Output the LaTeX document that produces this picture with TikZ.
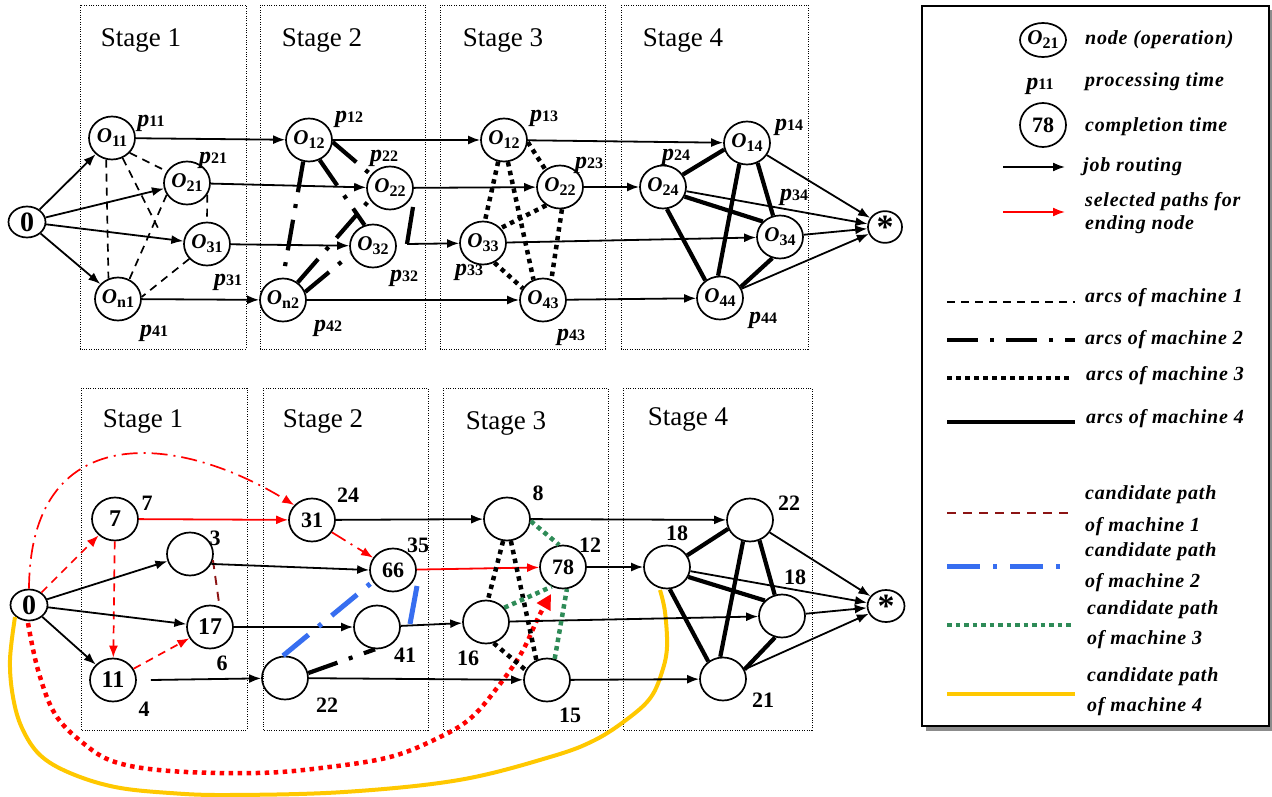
\documentclass[tikz,border=0pt]{standalone}
\usepackage{fontspec}
\setmainfont{Liberation Serif}
\newfontfamily\legfont[LetterSpace=4]{Liberation Serif}
\usetikzlibrary{arrows.meta,shapes.geometric}
\definecolor{cred}{RGB}{255,0,0}
\definecolor{cdred}{RGB}{140,20,20}
\definecolor{cblue}{RGB}{55,110,240}
\definecolor{cgreen}{RGB}{46,139,87}
\definecolor{cgold}{RGB}{255,200,0}
\newcommand\pp[1]{\textbf{\textit{p}}{\fontsize{16}{16}\selectfont\textbf{#1}}}
\newcommand\OO[1]{\textbf{\textit{O}}\raisebox{-4pt}{\fontsize{16}{16}\selectfont\textbf{#1}}}
\tikzset{
 op/.style={ellipse,draw,line width=1.7pt,minimum width=46pt,minimum height=43pt,inner sep=0pt,font=\fontsize{21}{21}\selectfont},
 zero/.style={ellipse,draw,line width=1.7pt,minimum width=37pt,minimum height=31pt,inner sep=0pt,font=\fontsize{28}{28}\selectfont\bfseries},
 endn/.style={ellipse,draw,line width=1.7pt,minimum width=34pt,minimum height=31pt,inner sep=0pt,font=\fontsize{34}{34}\selectfont\bfseries},
 num/.style={font=\fontsize{22}{22}\selectfont\bfseries,inner sep=0pt},
 lab/.style={font=\fontsize{24}{24}\selectfont,inner sep=0pt},
 stagebox/.style={draw,line width=0.9pt,dash pattern=on 1pt off 1.4pt},
 stagelab/.style={font=\fontsize{27}{27}\selectfont,inner sep=0pt},
 route/.style={line width=1.8pt,-{Latex[length=12pt,width=9pt]}},
 rroute/.style={route,draw=cred},
 m1/.style={line width=1.7pt,dash pattern=on 8pt off 6pt},
 m2/.style={line width=4.2pt,dash pattern=on 31pt off 12pt on 4pt off 12pt},
 m3/.style={line width=4.5pt,dash pattern=on 4.5pt off 4.5pt},
 m4/.style={line width=4.2pt},
 c1/.style={draw=cdred,line width=1.9pt,dash pattern=on 9pt off 7pt},
 c2/.style={draw=cblue,line width=5pt,dash pattern=on 33pt off 13pt on 4pt off 13pt},
 c3/.style={draw=cgreen,line width=4.5pt,dash pattern=on 4.5pt off 4pt},
 c4/.style={draw=cgold,line width=4pt},
 rdash/.style={draw=cred,line width=1.7pt,dash pattern=on 8pt off 6pt,-{Latex[length=12pt,width=9pt]}},
 rdashdot/.style={draw=cred,line width=1.7pt,dash pattern=on 16pt off 6pt on 2pt off 6pt,-{Latex[length=12pt,width=9pt]}},
 legtext/.style={anchor=west,font=\legfont\fontsize{20}{20}\selectfont\bfseries\itshape,inner sep=0pt},
}
\begin{document}
\begin{tikzpicture}[x=1pt,y=-1pt]
\useasboundingbox (0,0) rectangle (1272,797);
% ---------- stage boxes ----------
\draw[stagebox] (80,5) rectangle (246,349);
\draw[stagebox] (260,5) rectangle (425,349);
\draw[stagebox] (440,5) rectangle (605,349);
\draw[stagebox] (621,5) rectangle (808,349);
\draw[stagebox] (81,388) rectangle (247,730);
\draw[stagebox] (263,388) rectangle (428,730);
\draw[stagebox] (443,388) rectangle (608,730);
\draw[stagebox] (623,388) rectangle (812,730);
\node[stagelab] (st1) at (141,40) {Stage 1};
\node[stagelab] (st2) at (322,40) {Stage 2};
\node[stagelab] (st3) at (503,40) {Stage 3};
\node[stagelab] (st4) at (683,40) {Stage 4};
\node[stagelab] (sb1) at (143,421) {Stage 1};
\node[stagelab] (sb2) at (323,421) {Stage 2};
\node[stagelab] (sb3) at (506,423) {Stage 3};
\node[stagelab] (sb4) at (688,419) {Stage 4};
% ---------- top nodes ----------
\node[zero] (t0) at (27,222) {0};
\node[op] (t11) at (112,138) {\OO{11}};
\node[op] (t21) at (187,183) {\OO{21}};
\node[op] (t31) at (207,244) {\OO{31}};
\node[op] (tn1) at (118,299) {\OO{n1}};
\node[op] (s12) at (309,140) {\OO{12}};
\node[op] (s22) at (390,188) {\OO{22}};
\node[op] (s32) at (373,246) {\OO{32}};
\node[op] (sn2) at (283,300) {\OO{n2}};
\node[op] (u12) at (504,140) {\OO{12}};
\node[op] (u22) at (560,187) {\OO{22}};
\node[op] (u33) at (483,243) {\OO{33}};
\node[op] (u43) at (543,300) {\OO{43}};
\node[op] (v14) at (747,143) {\OO{14}};
\node[op] (v24) at (663,187) {\OO{24}};
\node[op] (v34) at (780,237) {\OO{34}};
\node[op] (v44) at (720,298) {\OO{44}};
\node[endn] (tstar) at (885,227) {\raisebox{-11pt}{*}};
% p labels
\node[lab] (p11) at (151,123) {\pp{11}};
\node[lab] (p21) at (213,160) {\pp{21}};
\node[lab] (p31) at (228,282) {\pp{31}};
\node[lab] (p41) at (154,333) {\pp{41}};
\node[lab] (p12) at (349,119) {\pp{12}};
\node[lab] (p22) at (384,158) {\pp{22}};
\node[lab] (p32) at (404,278) {\pp{32}};
\node[lab] (p42) at (328,328) {\pp{42}};
\node[lab] (p13) at (544,118) {\pp{13}};
\node[lab] (p23) at (589,165) {\pp{23}};
\node[lab] (p33) at (469,272) {\pp{33}};
\node[lab] (p43) at (571,337) {\pp{43}};
\node[lab] (p14) at (789,127) {\pp{14}};
\node[lab] (p24) at (676,157) {\pp{24}};
\node[lab] (p34) at (794,197) {\pp{34}};
\node[lab] (p44) at (763,320) {\pp{44}};
% top routes
\draw[route] (t0) -- (t11);
\draw[route] (t0) -- (t21);
\draw[route] (t0) -- (t31);
\draw[route] (t0) -- (tn1);
\draw[route] (t11) -- (s12);
\draw[route] (t21) -- (s22);
\draw[route] (t31) -- (s32);
\draw[route] (tn1) -- (sn2);
\draw[route] (s12) -- (u12);
\draw[route] (s22) -- (u22);
\coordinate (bend1) at (413,207);
\coordinate (bend2) at (407,244);
\draw[m4] (bend1) -- (bend2);
\draw[route] (bend2) -- (u33);
\draw[route] (sn2) -- (u43);
\draw[route] (u12) -- (v14);
\draw[route] (u22) -- (v24);
\draw[route] (u33) -- (v34);
\draw[route] (u43) -- (v44);
\draw[route] (v14) -- (tstar);
\draw[route] (v24) -- (tstar);
\draw[route] (v34) -- (tstar);
\draw[route] (v44) -- (tstar);
% machine 1 arcs
\coordinate (m1end) at (158,228);
\draw[m1] (t11.-105) -- (tn1.115);
\draw[m1] (t11.-62) -- (m1end);
\draw[m1] (t11.-40) -- (t21.150);
\draw[m1] (t21.-150) -- (tn1.60);
\draw[m1] (t21.-30) -- (t31.north);
\draw[m1] (t31.-140) -- (tn1.5);
% machine 2 arcs
\draw[m2] (s12.-105) -- (sn2.90);
\draw[m2] (s12.-62) -- (s32.112);
\draw[m2] (s12.-5) -- (s22.145);
\draw[m2] (sn2.50) -- (s22.-150);
\draw[m2] (sn2.20) -- (s32.-160);
% machine 3 arcs
\draw[m3] (u12.-5) -- (u22.130);
\draw[m3] (u12.-105) -- (u33.85);
\draw[m3] (u12.-80) -- (u43.115);
\draw[m3] (u22.-127) -- (u33.40);
\draw[m3] (u22.-85) -- (u43.68);
\draw[m3] (u33.-60) -- (u43.150);
% machine 4 arcs
\draw[m4] (v24.32) -- (v14.-164);
\draw[m4] (v24.-24) -- (v34.138);
\draw[m4] (v24.-80) -- (v44.130);
\draw[m4] (v14.-110) -- (v44.95);
\draw[m4] (v14.-62) -- (v34.108);
\draw[m4] (v34.-110) -- (v44.28);
% ---------- bottom nodes ----------
\node[zero] (a0) at (29,605) {0};
\node[op,font=\fontsize{24}{24}\selectfont\bfseries] (a7) at (115,519) {7};
\node[op] (a3) at (190,554) {};
\node[op,font=\fontsize{24}{24}\selectfont\bfseries] (a17) at (210,627) {17};
\node[op,font=\fontsize{24}{24}\selectfont\bfseries] (a11) at (113,680) {11};
\node[op,font=\fontsize{22}{22}\selectfont\bfseries] (b31) at (312,520) {31};
\node[op,font=\fontsize{22}{22}\selectfont\bfseries] (b66) at (393,570) {66};
\node[op] (b41) at (377,627) {};
\node[op] (b22) at (285,678) {};
\node[op] (c8) at (507,519) {};
\node[op,font=\fontsize{22}{22}\selectfont\bfseries] (c78) at (563,567) {78};
\node[op] (c16) at (486,622) {};
\node[op] (c15) at (547,680) {};
\node[op] (d22) at (750,520) {};
\node[op] (d18) at (667,567) {};
\node[op] (d18b) at (782,616) {};
\node[op] (d21) at (723,679) {};
\node[endn,minimum width=37pt,minimum height=32pt] (astar) at (886,606) {\raisebox{-11pt}{*}};
% completion labels
\node[num] (l7) at (147,503) {7};
\node[num] (l3) at (215,538) {3};
\node[num] (l6) at (222,663) {6};
\node[num] (l4) at (144,709) {4};
\node[num] (l24) at (348,495) {24};
\node[num] (l35) at (418,545) {35};
\node[num] (l41) at (405,655) {41};
\node[num] (l22a) at (327,705) {22};
\node[num] (l8) at (538,493) {8};
\node[num] (l12) at (590,545) {12};
\node[num] (l16) at (468,658) {16};
\node[num] (l15) at (570,715) {15};
\node[num] (l22b) at (789,503) {22};
\node[num] (l18a) at (677,533) {18};
\node[num] (l18b) at (795,577) {18};
\node[num] (l21) at (763,700) {21};
% candidate curves
\draw[c4] plot[smooth,tension=0.6] coordinates {(15,617) (10,660) (13,697) (22,728) (40,755) (70,773) (115,787) (170,793) (229,795) (344,792) (459,780) (550,757) (595,740) (630,717) (651,697) (662,672) (667,647) (665,612) (660,590)};
\draw[draw=cred,line width=4.5pt,dash pattern=on 4.5pt off 4.5pt,-{Triangle[length=15pt,width=15pt]}] plot[smooth,tension=0.6] coordinates {(28,623) (38,670) (55,714) (83,743) (115,762) (170,771) (257,773) (321,768) (390,757) (440,737) (472,717) (500,684) (522,652) (538,618) (551,594)};
\draw[rdashdot] (a0.north) .. controls (30,420) and (175,432) .. (b31.140);
% bottom routes
\draw[rdash] (a0) -- (a7);
\draw[rdash] (a7) -- (a11);
\draw[rdash] (a11) -- (a17);
\draw[route] (a0) -- (a3);
\draw[route] (a0) -- (a17);
\draw[route] (a0) -- (a11);
\draw[c1] (a3.-15) -- (a17.65);
\draw[rroute] (a7) -- (b31);
\draw[rdashdot] (b31) -- (b66);
\draw[route] (b31) -- (c8);
\draw[route] (a3.-25) -- (b66.west);
\draw[route] (a17) -- (b41);
\draw[route] ([xshift=14pt]a11.east) -- (b22);
\draw[rroute] (b66) -- (c78);
\draw[route] (b41) -- (c16);
\draw[route] (b22) -- (c15);
\draw[route] (c8) -- (d22);
\draw[route] (c78) -- (d18);
\draw[route] (c16) -- (d18b);
\draw[route] (c15) -- (d21);
\draw[route] (d22) -- (astar);
\draw[route] (d18) -- (astar);
\draw[route] (d18b) -- (astar);
\draw[route] (d21) -- (astar);
% machine 2 bottom
\draw[m2] (b22.12) -- (b41.-95);
\draw[c2] (b22.95) -- (b66.-150);
\coordinate (bl1) at (410,624);
\coordinate (bl2) at (417,586);
\draw[draw=cblue,line width=5pt] (bl1) -- (bl2);
% machine 3 bottom
\draw[m3] (c8.-100) -- (c16.85);
\draw[m3] (c8.-80) -- (c15.118);
\draw[m3] (c16.-70) -- (c15.155);
\draw[c3] (c8.-5) -- (c78.100);
\draw[c3] (c16.38) -- (c78.-120);
\draw[c3] (c15.70) -- (c78.-80);
% machine 4 bottom
\draw[m4] (d18.30) -- (d22.-158);
\draw[m4] (d18.-25) -- (d18b.138);
\draw[m4] (d18.-83) -- (d21.130);
\draw[m4] (d22.-108) -- (d21.97);
\draw[m4] (d22.-65) -- (d18b.109);
\draw[m4] (d18b.-108) -- (d21.24);
% ---------- legend ----------
\fill[black!45] (926,10) rectangle (1272,731);
\draw[line width=1.8pt,fill=white] (922,6) rectangle (1269,726);
\node[op,minimum height=34pt] (lgO) at (1043,40) {\OO{21}};
\node[lab] (lgp) at (1040,86) {\pp{11}};
\node[op,minimum height=44pt,font=\fontsize{22}{22}\selectfont\bfseries] (lg78) at (1043,125) {78};
\node[legtext] (tx1) at (1085,40) {node (operation)};
\node[legtext] (tx2) at (1085,82) {processing time};
\node[legtext] (tx3) at (1085,127) {completion time};
\node[legtext] (tx4) at (1083,167) {job routing};
\node[legtext] (tx5) at (1085,202) {selected paths for};
\node[legtext] (tx6) at (1085,225) {ending node};
\coordinate (la1) at (1003,167); \coordinate (lb1) at (1065,167);
\draw[route] (la1) -- (lb1);
\coordinate (la2) at (1003,212); \coordinate (lb2) at (1065,212);
\draw[rroute] (la2) -- (lb2);
\coordinate (la3) at (947,302); \coordinate (lb3) at (1075,302);
\draw[m1] (la3) -- (lb3);
\node[legtext] (tx7) at (1085,298) {arcs of machine 1};
\coordinate (la4) at (947,340); \coordinate (lb4) at (1075,340);
\draw[m2] (la4) -- (lb4);
\node[legtext] (tx8) at (1085,340) {arcs of machine 2};
\coordinate (la5) at (947,378); \coordinate (lb5) at (1072,378);
\draw[m3] (la5) -- (lb5);
\node[legtext] (tx9) at (1086,376) {arcs of machine 3};
\coordinate (la6) at (947,422); \coordinate (lb6) at (1075,422);
\draw[m4] (la6) -- (lb6);
\node[legtext] (tx10) at (1086,419) {arcs of machine 4};
\coordinate (la7) at (947,513); \coordinate (lb7) at (1075,513);
\draw[c1] (la7) -- (lb7);
\node[legtext] (tx11) at (1085,495) {candidate path};
\node[legtext] (tx12) at (1085,527) {of machine 1};
\coordinate (la8) at (947,566); \coordinate (lb8) at (1065,566);
\draw[c2] (la8) -- (lb8);
\node[legtext] (tx13) at (1085,552) {candidate path};
\node[legtext] (tx14) at (1085,583) {of machine 2};
\coordinate (la9) at (947,625); \coordinate (lb9) at (1072,625);
\draw[c3] (la9) -- (lb9);
\node[legtext] (tx15) at (1087,610) {candidate path};
\node[legtext] (tx16) at (1087,640) {of machine 3};
\coordinate (la10) at (947,694); \coordinate (lb10) at (1075,694);
\draw[c4] (la10) -- (lb10);
\node[legtext] (tx17) at (1087,677) {candidate path};
\node[legtext] (tx18) at (1087,707) {of machine 4};
\end{tikzpicture}
\end{document}
